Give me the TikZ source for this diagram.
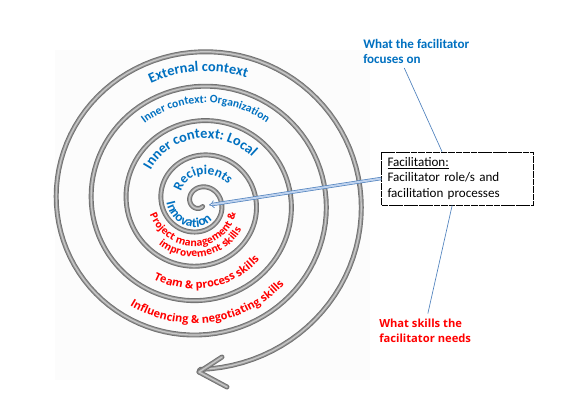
\documentclass[tikz,border=0pt]{standalone}
\usepackage{fontspec}
\setmainfont{Carlito}
\newfontfamily\comicfont{Open Sans}
\usetikzlibrary{positioning, arrows.meta, decorations.text, calc}
\definecolor{ofblue}{RGB}{0,112,192}
\definecolor{leadblue}{RGB}{79,129,189}
\definecolor{arrfill}{RGB}{190,210,238}
\definecolor{spdark}{RGB}{112,112,112}
\definecolor{spmid}{RGB}{152,152,152}
\definecolor{splight}{RGB}{200,200,200}
% radius of the spiral (angle in degrees, clockwise on the page)
\pgfmathdeclarefunction{sprad}{1}{\pgfmathparse{(#1<0) ? (10+0.0486*(#1+180)+0.000077*(#1+180)*(#1+180)) : (21.25+0.0972*#1)}}
\tikzset{spir/.style={draw=spdark, line width=3.7pt, line cap=round, line join=round,
    postaction={draw=spmid, line width=2.3pt}, postaction={draw=splight, line width=0.9pt}}}
\tikzset{facbox/.style={draw, line width=0.5pt, dash pattern=on 5pt off 0.6pt, align=left,
    text width=105pt, inner xsep=4.5pt, minimum height=39.75pt, font=\fontsize{9.8}{11.6}\selectfont}}
\tikzset{bluenote/.style={align=left, inner sep=0pt, text=ofblue, font=\fontsize{9.8}{11.4}\selectfont\bfseries}}
\tikzset{rednote/.style={align=left, inner sep=0pt, text=red, font=\comicfont\fontsize{8.4}{11.2}\selectfont\bfseries}}
\tikzset{lead/.style={draw=leadblue, line width=0.5pt}}
\tikzset{bigarr/.style={draw=leadblue, line width=0.5pt, double=arrfill, double distance=1.5pt, -{Implies}}}
% text laid along the spiral: from, to, offset inwards, text
\newcommand{\spiraltext}[4]{%
  \path[decorate, decoration={text along path, text align=center, text={#4}}]
    plot[domain=#1:#2, samples=80] ({200+(sprad(\x)-#3)*cos(\x)}, {202+0.985*(sprad(\x)-#3)*sin(\x)});}
\newcommand{\bigblue}{|\fontsize{10.8}{12}\selectfont\bfseries\color{ofblue}|}
\newcommand{\midblue}{|\fontsize{8.6}{10}\selectfont\bfseries\color{ofblue}|}
\newcommand{\redsmall}{|\comicfont\fontsize{7.5}{8}\selectfont\bfseries\color{red}|}
\newcommand{\redbig}{|\comicfont\fontsize{8.2}{9}\selectfont\bfseries\color{red}|}

\begin{document}
\begin{tikzpicture}[x=0.75pt, y=-0.75pt]
  \useasboundingbox (0,0) rectangle (586,405);
  \fill[black!1] (55,50) rectangle (370,380);

  % the spiral
  \coordinate (tip) at (199,372);
  \draw[spir] plot[domain=-300:1530, samples=500]
      ({200+sprad(\x)*cos(\x)}, {202+0.985*sprad(\x)*sin(\x)}) -- (tip);
  \draw[spir] (tip) ++(23,-15) -- (tip) -- ++(28,15);

  % what the facilitator focuses on
  \spiraltext{1290}{1406}{20}{\bigblue External context}
  \spiraltext{925}{1057}{17}{\midblue Inner context: Organization}
  \spiraltext{560}{690}{18}{\bigblue Inner context: Local}
  \spiraltext{195}{337}{20}{|\fontsize{10}{12}\selectfont\bfseries\color{ofblue}|Recipients}
  \spiraltext{196}{28}{5}{|\fontsize{10}{10}\selectfont\bfseries\color{ofblue}|Innovation}

  % what skills the facilitator needs
  \spiraltext{535}{365}{20.5}{\redsmall Project management {\&}}
  \spiraltext{145}{20}{-25.5}{\redsmall improvement skills}
  \spiraltext{866}{736}{12}{\redbig Team {\&} process skills}
  \spiraltext{1230}{1096}{12}{\redbig Influencing {\&} negotiating skills}

  % notes and box
  \node[facbox] (fac) at (457.5,178.5) {\underline{Facilitation:}\\Facilitator role/s and\\facilitation processes};
  \node[bluenote, anchor=north west] (focus) at (363,39) {What the facilitator\\focuses on};
  \node[rednote, anchor=north west] (skills) at (379,319) {What skills the\\facilitator needs};
  \coordinate (inn) at (209,205);

  \draw[lead] ([xshift=-9pt, yshift=-3pt]focus.south) -- ([xshift=-11.6pt]fac.north);
  \draw[lead] ([xshift=-4pt]fac.south) -- ([xshift=2pt, yshift=4pt]skills.north);
  \draw[bigarr] (fac.west) -- (inn);
\end{tikzpicture}
\end{document}
